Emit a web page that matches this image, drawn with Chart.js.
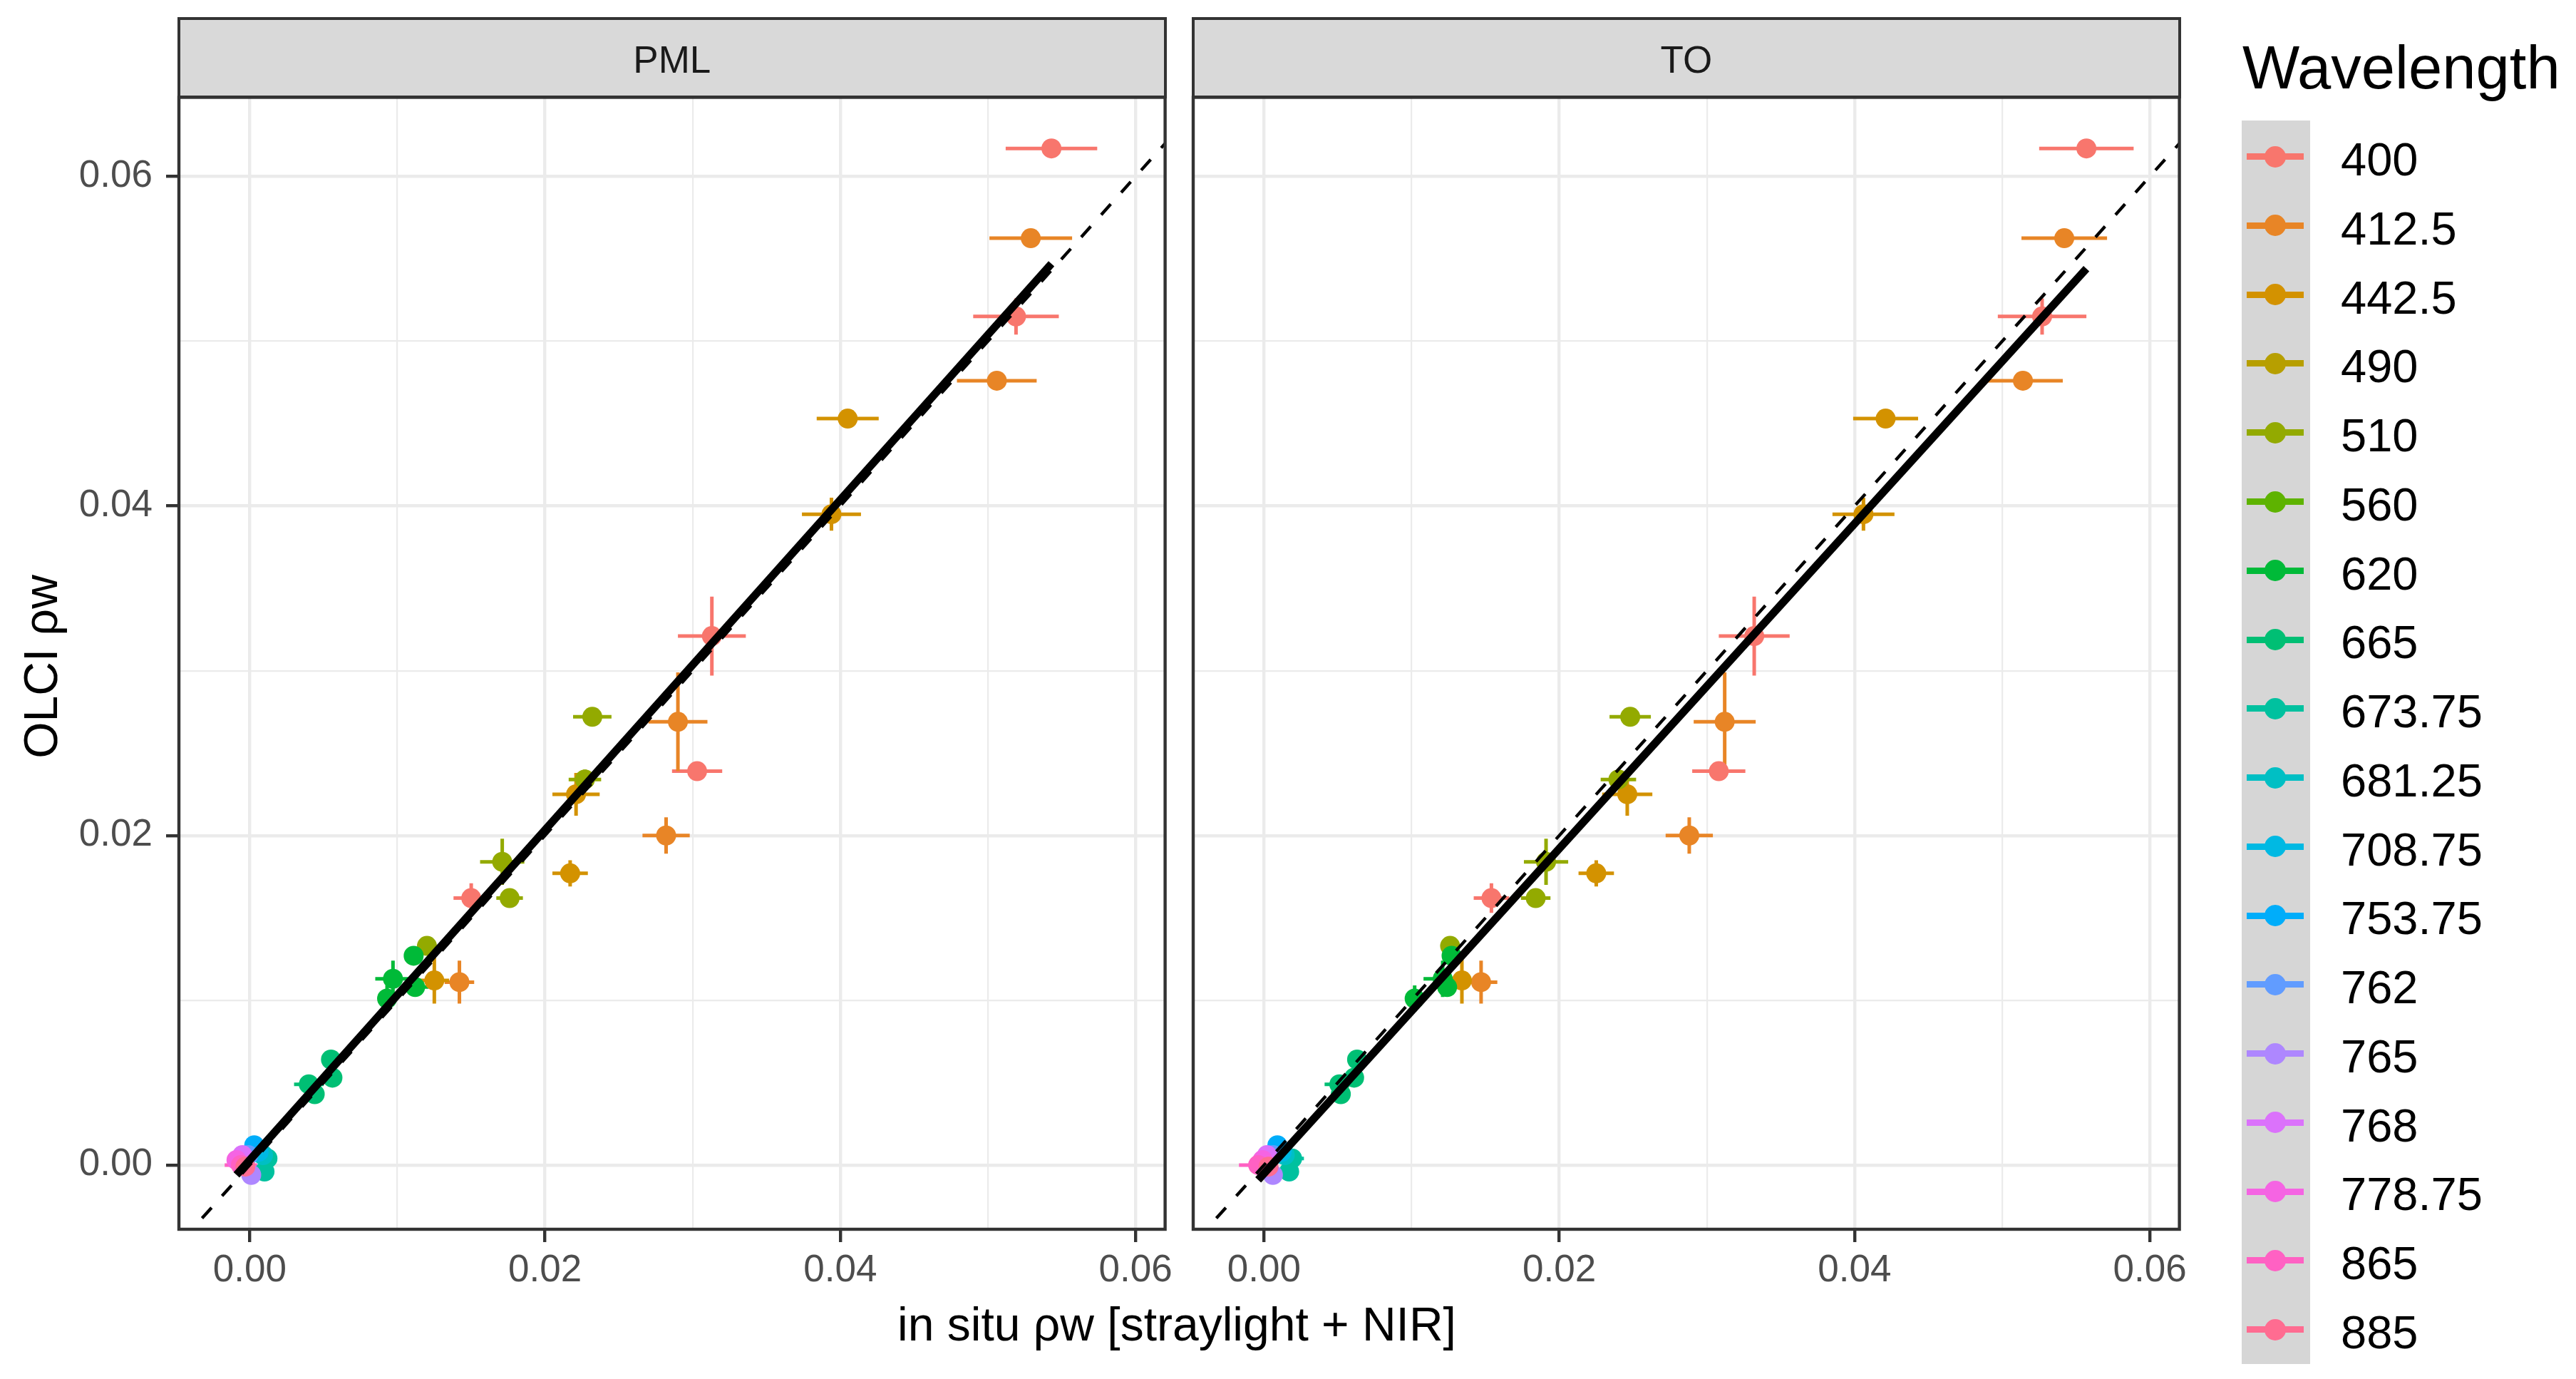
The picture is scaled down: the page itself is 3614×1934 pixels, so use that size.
<!DOCTYPE html>
<html>
<head>
<meta charset="utf-8">
<script src="https://cdn.jsdelivr.net/npm/chart.js@4.4.1/dist/chart.umd.min.js"></script>
<style>
html,body{margin:0;padding:0;background:#ffffff;width:3614px;height:1934px;overflow:hidden;font-family:"Liberation Sans",Arial,sans-serif;}
.box{position:absolute;}
.strip{position:absolute;box-sizing:border-box;background:#D9D9D9;border:4.4px solid #333333;}
.txt{position:absolute;white-space:nowrap;}
</style>
</head>
<body>
<div id="pmlBox" class="box" style="left:0px;top:0px;width:1660px;height:1934px;"><canvas id="pml"></canvas></div>
<div id="toBox" class="box" style="left:1650px;top:0px;width:1450px;height:1934px;"><canvas id="to"></canvas></div>
<div id="overlay"></div>
<script>
// ---------------- data ----------------
const wavelengths = ['400','412.5','442.5','490','510','560','620','665','673.75','681.25','708.75','753.75','762','765','768','778.75','865','885'];
const bandColours = ['#F8766D','#E88526','#D39200','#B79F00','#93AA00','#5EB300','#00BA38','#00BF74','#00C19F','#00BFC4','#00B9E3','#00ADFA','#619CFF','#AE87FF','#DB72FB','#F564E3','#FF61C3','#FF6C91'];
const panels = ['PML','TO'];

const pointBand = ['400','400','400','400','400',
  '412.5','412.5','412.5','412.5','412.5',
  '442.5','442.5','442.5','442.5','442.5',
  '510','510','510','510','510',
  '620','620','620','620',
  '665','665','665','665',
  '673.75','673.75','681.25','708.75','753.75','762','765','768','778.75','865','885'];
const olciY    = [0.0617,0.0515,0.0321,0.0239,0.0162,
  0.05625,0.0476,0.0269,0.0200,0.0111,
  0.0453,0.0395,0.0225,0.0177,0.0112,
  0.0272,0.0234,0.0184,0.0162,0.0133,
  0.0127,0.0113,0.0108,0.0101,
  0.0064,0.0053,0.0049,0.0043,
  0.0004,-0.0004,0.0006,0.0008,0.0012,0.0006,-0.0006,0.0006,0.0003,0.0000,-0.0001];
const olciYErr = [0.0002,0.0011,0.0024,0.0003,0.0009,
  0.0002,0.0002,0.0030,0.0011,0.0013,
  0.0002,0.0010,0.0013,0.0008,0.0014,
  0.0002,0.0006,0.0014,0.0002,0.0002,
  0.0002,0.0011,0.0004,0.0008,
  0.0003,0.0004,0.0003,0.0004,
  0.0003,0.0002,0.0003,0.0002,0.0002,0.0002,0.0002,0.0002,0.0002,0.0002,0.0002];
const pmlX     = [0.0543,0.0519,0.0313,0.0303,0.0150,
  0.0529,0.0506,0.0290,0.0282,0.0142,
  0.0405,0.0394,0.0221,0.0217,0.0125,
  0.0232,0.0227,0.0171,0.0176,0.0120,
  0.0111,0.0097,0.0112,0.0093,
  0.0055,0.0056,0.0040,0.0044,
  0.0012,0.0010,0.0009,0.0006,0.0003,-0.0001,0.0001,-0.0005,-0.0009,-0.0006,-0.0003];
const pmlXErr  = [0.0031,0.0029,0.0023,0.0017,0.0012,
  0.0028,0.0027,0.0020,0.0016,0.0010,
  0.0021,0.0020,0.0016,0.0012,0.0010,
  0.0013,0.0011,0.0015,0.0009,0.0004,
  0.0005,0.0012,0.0009,0.0003,
  0.0003,0.0003,0.0010,0.0003,
  0.0003,0.0002,0.0002,0.0002,0.0002,0.0002,0.0002,0.0002,0.0003,0.0011,0.0003];
const toX      = [0.0557,0.0527,0.0332,0.0308,0.0154,
  0.0542,0.0514,0.0312,0.0288,0.0147,
  0.0421,0.0406,0.0246,0.0225,0.0134,
  0.0248,0.0240,0.0191,0.0184,0.0126,
  0.0127,0.0121,0.0124,0.0102,
  0.0063,0.0061,0.0051,0.0052,
  0.0019,0.0017,0.0014,0.0012,0.0009,0.0006,0.0006,0.0002,-0.0001,-0.0004,0.0003];
const toXErr   = [0.0032,0.0030,0.0024,0.0018,0.0012,
  0.0029,0.0027,0.0021,0.0016,0.0011,
  0.0022,0.0021,0.0017,0.0012,0.0010,
  0.0014,0.0012,0.0015,0.0010,0.0005,
  0.0005,0.0013,0.0008,0.0004,
  0.0003,0.0004,0.0010,0.0004,
  0.0008,0.0003,0.0003,0.0002,0.0002,0.0002,0.0002,0.0002,0.0003,0.0013,0.0003];

const pmlFitX = [-0.0009, 0.0543];
const pmlFitY = [-0.0006, 0.0547];
const toFitX  = [-0.0004, 0.0557];
const toFitY  = [-0.0009, 0.0544];
const identityLine = [-0.01, 0.07];

const xLimits = [-0.0048, 0.0620];
const yLimits = [-0.0039, 0.0648];
const axisTicks = [0.00, 0.01, 0.02, 0.03, 0.04, 0.05, 0.06];
const majorTicks = [0.00, 0.02, 0.04, 0.06];
const majorLabels = ['0.00', '0.02', '0.04', '0.06'];

const xTitle = 'in situ \u03C1w [straylight + NIR]';
const yTitle = 'OLCI \u03C1w';
const legendTitle = 'Wavelength';

// ---------------- helpers ----------------
const FONT = "'Liberation Sans', Arial, sans-serif";
function majorIndex(v){ return majorTicks.findIndex(m => Math.abs(m - v) < 1e-9); }
function isMajor(c){ return c && c.tick ? majorIndex(c.tick.value) >= 0 : true; }

function buildDatasets(xs, xerrs, fitX, fitY){
  const ds = [];
  ds.push({type:'line', data: fitX.map((x,i)=>({x:x, y:fitY[i]})), borderColor:'#000000', borderWidth:11,
           pointRadius:0, order:0, clip:0, borderCapStyle:'butt'});
  ds.push({type:'line', data: identityLine.map(v=>({x:v, y:v})), borderColor:'#000000', borderWidth:4.4,
           borderDash:[20,22], pointRadius:0, order:0, clip:0});
  wavelengths.forEach((w,b)=>{
    const idx = [];
    pointBand.forEach((pb,i)=>{ if(pb===w) idx.push(i); });
    if(!idx.length) return;
    const bars = [];
    idx.forEach(i=>{
      const x = xs[i], y = olciY[i], xe = xerrs[i], ye = olciYErr[i];
      bars.push({x:x-xe, y:y}, {x:x+xe, y:y}, {x:x, y:null});
      bars.push({x:x, y:y-ye}, {x:x, y:y+ye}, {x:x, y:null});
    });
    ds.push({type:'line', data:bars, borderColor:bandColours[b], borderWidth:5, pointRadius:0,
             spanGaps:false, order:200-b, clip:0, borderCapStyle:'butt'});
    ds.push({type:'scatter', data: idx.map(i=>({x:xs[i], y:olciY[i]})), backgroundColor:bandColours[b],
             borderWidth:0, pointRadius:14, pointHoverRadius:14, order:100-b});
  });
  return ds;
}

const panelBorder = {
  id:'panelBorder',
  afterDraw(chart){
    const a = chart.chartArea, ctx = chart.ctx;
    ctx.save();
    ctx.strokeStyle = '#333333';
    ctx.lineWidth = 4.4;
    ctx.strokeRect(a.left, a.top, a.right - a.left, a.bottom - a.top);
    ctx.restore();
  }
};

function makeOptions(showY, padLeft, padRight){
  const gridBase = {
    color:'#EBEBEB',
    lineWidth: c => isMajor(c) ? 4.4 : 2.2,
    tickLength:18,
    tickWidth:4.4,
    tickColor: c => isMajor(c) ? '#333333' : 'rgba(0,0,0,0)'
  };
  return {
    responsive:true, maintainAspectRatio:false, animation:false, events:[],
    layout:{padding:{left:padLeft, right:padRight, top:136.5, bottom:0}},
    plugins:{legend:{display:false}, tooltip:{enabled:false}},
    scales:{
      x:{type:'linear', position:'bottom', min:xLimits[0], max:xLimits[1],
         afterBuildTicks: s => { s.ticks = axisTicks.map(v=>({value:v})); },
         afterFit: s => { s.height = 210; },
         ticks:{callback: v => { const k = majorIndex(v); return k >= 0 ? majorLabels[k] : ''; },
                font:{family:FONT, size:53}, color:'#4D4D4D', padding:9, maxRotation:0, autoSkip:false},
         grid: Object.assign({drawTicks:true}, gridBase),
         border:{display:false}},
      y:{type:'linear', position:'left', min:yLimits[0], max:yLimits[1],
         afterBuildTicks: s => { s.ticks = axisTicks.map(v=>({value:v})); },
         afterFit: s => { s.width = showY ? 251 : 0; },
         ticks:{display:showY, callback: v => { const k = majorIndex(v); return k >= 0 ? majorLabels[k] : ''; },
                font:{family:FONT, size:53}, color:'#4D4D4D', padding:19, autoSkip:false},
         grid: Object.assign({drawTicks:showY}, gridBase),
         border:{display:false}}
    }
  };
}

new Chart(document.getElementById('pml'), {
  type:'scatter',
  data:{datasets: buildDatasets(pmlX, pmlXErr, pmlFitX, pmlFitY)},
  options: makeOptions(true, 0, 25.4),
  plugins:[panelBorder]
});
new Chart(document.getElementById('to'), {
  type:'scatter',
  data:{datasets: buildDatasets(toX, toXErr, toFitX, toFitY)},
  options: makeOptions(false, 24, 42.4),
  plugins:[panelBorder]
});

// ---------------- text & legend (HTML) ----------------
const ov = document.getElementById('overlay');
function el(cls, style, text){
  const d = document.createElement('div');
  d.className = cls; d.setAttribute('style', style);
  if(text !== undefined) d.textContent = text;
  ov.appendChild(d); return d;
}
const panelLefts = [251, 1674];
const panelWidth = 1383.6;
panels.forEach((p,i)=>{
  const L = panelLefts[i];
  el('strip', `left:${L-2.2}px;top:24px;width:${panelWidth+4.4}px;height:114px;`);
  el('txt', `left:${L}px;top:57px;width:${panelWidth}px;text-align:center;font-size:53px;line-height:53px;color:#1A1A1A;`, p);
});
el('txt', 'left:851px;top:1824px;width:1600px;text-align:center;font-size:66px;line-height:66px;color:#000;', xTitle);
el('txt', 'left:-342.9px;top:902px;width:800px;height:66px;text-align:center;font-size:66px;line-height:66px;color:#000;transform:rotate(-90deg);transform-origin:50% 50%;', yTitle);

el('txt', 'left:3146px;top:52px;font-size:85px;line-height:85px;color:#000;', legendTitle);
el('box', 'left:3145px;top:169px;width:96px;height:1744px;background:#D6D6D6;');
wavelengths.forEach((w,i)=>{
  const cy = 219.7 + i*96.76;
  el('box', `left:3152px;top:${cy-4.5}px;width:80px;height:9px;background:${bandColours[i]};`);
  el('box', `left:${3192-15}px;top:${cy-15}px;width:30px;height:30px;border-radius:50%;background:${bandColours[i]};`);
  el('txt', `left:3284px;top:${cy-28.7}px;font-size:65px;line-height:65px;color:#000;`, w);
});
</script>
</body>
</html>
